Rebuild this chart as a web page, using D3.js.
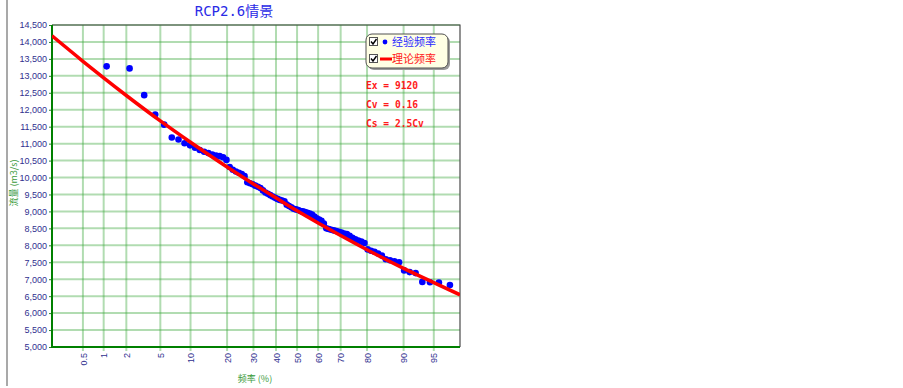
<!DOCTYPE html>
<html>
<head>
<meta charset="utf-8">
<script src="https://cdn.jsdelivr.net/npm/d3@7/dist/d3.min.js"></script>
<style>
body { margin: 0; background: #fff; }
</style>
</head>
<body>
<div id="chart-area"></div>
<script>
/*
*    RCP2.6 frequency curve
*/

var title = "RCP2.6情景";
var freqTicks = [0.5, 1, 2, 5, 10, 20, 30, 40, 50, 60, 70, 80, 90, 95];
var flowTicks = [5000, 5500, 6000, 6500, 7000, 7500, 8000, 8500, 9000, 9500,
    10000, 10500, 11000, 11500, 12000, 12500, 13000, 13500, 14000, 14500];
var freqRange = [0.16, 97.5];   // percent, ends of the probability axis
var flowRange = [5000, 14500];

// observed flows, sorted high to low (n = 90, last two fall off the axis)
var sampleSize = 90;
var observed = [13280, 13220, 12430, 11860, 11560, 11180, 11120, 11010, 10950, 10880,
    10810, 10760, 10720, 10680, 10650, 10630, 10600, 10520, 10310, 10230,
    10180, 10140, 10100, 10040, 9860, 9830, 9800, 9760, 9730, 9690,
    9620, 9560, 9520, 9480, 9440, 9400, 9370, 9340, 9320, 9300,
    9200, 9160, 9120, 9080, 9060, 9040, 9010, 9000, 8980, 8960,
    8940, 8910, 8850, 8800, 8760, 8720, 8640, 8500, 8480, 8460,
    8440, 8420, 8400, 8380, 8350, 8330, 8280, 8220, 8180, 8140,
    8110, 8070, 7880, 7840, 7810, 7760, 7700, 7590, 7560, 7530,
    7500, 7260, 7210, 7180, 6920, 6910, 6900, 6830];

// fitted curve
var theoryFreq = [0.16, 0.5, 1, 2, 5, 10, 20, 30, 40, 50, 60, 70, 80, 90, 95, 97.5];
var theoryFlow = [14180, 13430, 12940, 12420, 11670, 11040, 10310, 9810, 9400, 9020,
    8660, 8290, 7870, 7320, 6900, 6540];

var params = ["Ex = 9120", "Cv = 0.16", "Cs = 2.5Cv"];
var legendNames = ["经验频率", "理论频率"];

// inverse normal cdf (Acklam)
function probit(p) {
    var a = [-39.69683028665376, 220.9460984245205, -275.9285104469687, 138.3577518672690, -30.66479806614716, 2.506628277459239];
    var b = [-54.47609879822406, 161.5858368580409, -155.6989798598866, 66.80131188771972, -13.28068155288572];
    var c = [-0.007784894002430293, -0.3223964580411365, -2.400758277161838, -2.549732539343734, 4.374664141464968, 2.938163982698783];
    var d = [0.007784695709041462, 0.3224671290700398, 2.445134137142996, 3.754408661907416];
    var plow = 0.02425, q, r;
    if (p < plow) {
        q = Math.sqrt(-2 * Math.log(p));
        return (((((c[0]*q+c[1])*q+c[2])*q+c[3])*q+c[4])*q+c[5]) / ((((d[0]*q+d[1])*q+d[2])*q+d[3])*q+1);
    }
    if (p > 1 - plow) {
        q = Math.sqrt(-2 * Math.log(1 - p));
        return -(((((c[0]*q+c[1])*q+c[2])*q+c[3])*q+c[4])*q+c[5]) / ((((d[0]*q+d[1])*q+d[2])*q+d[3])*q+1);
    }
    q = p - 0.5; r = q * q;
    return (((((a[0]*r+a[1])*r+a[2])*r+a[3])*r+a[4])*r+a[5])*q / (((((b[0]*r+b[1])*r+b[2])*r+b[3])*r+b[4])*r+1);
}

var width = 903;
var height = 388;
var plot = {left: 52, top: 25, right: 460, bottom: 347};

var svg = d3.select("#chart-area")
    .append("svg")
    .attr("width", width)
    .attr("height", height)
    .style("font-family", "'Liberation Sans', Arial, sans-serif");

// panel edge on the left
svg.append("line")
    .attr("x1", 7).attr("x2", 7)
    .attr("y1", 0).attr("y2", 386)
    .attr("stroke", "#a9a9a9")
    .attr("stroke-width", 2);

var x = d3.scaleLinear()
    .domain([probit(freqRange[0] / 100), probit(freqRange[1] / 100)])
    .range([plot.left, plot.right]);

var y = d3.scaleLinear()
    .domain(flowRange)
    .range([plot.bottom, plot.top]);

var fx = (p) => { return x(probit(p / 100)); };

// grid (semi transparent so crossings come out darker)
var grid = svg.append("g").attr("class", "grid");
grid.selectAll(null).data(flowTicks).enter()
    .append("line")
    .attr("x1", plot.left).attr("x2", plot.right)
    .attr("y1", (d) => { return y(d); })
    .attr("y2", (d) => { return y(d); })
    .attr("stroke", "#3ca83c").attr("stroke-opacity", 0.4)
    .attr("stroke-width", 2);
grid.selectAll(null).data(freqTicks).enter()
    .append("line")
    .attr("x1", fx).attr("x2", fx)
    .attr("y1", plot.top).attr("y2", plot.bottom + 4)
    .attr("stroke", "#3ca83c").attr("stroke-opacity", 0.4)
    .attr("stroke-width", 2);

// frame
svg.append("path")
    .attr("d", "M" + plot.left + "," + plot.top + "H" + plot.right + "V" + plot.bottom)
    .attr("fill", "none")
    .attr("stroke", "#4a4a4a")
    .attr("stroke-width", 1.2);

// left axis
var yAxisCall = d3.axisLeft(y)
    .tickValues(flowTicks)
    .tickFormat(d3.format(","))
    .tickSize(3)
    .tickPadding(2);
var yAxis = svg.append("g")
    .attr("transform", "translate(" + plot.left + ",0)")
    .call(yAxisCall);
yAxis.select(".domain").remove();
yAxis.selectAll("line").attr("stroke", "#2e7d2e");
yAxis.selectAll("text")
    .attr("fill", "#30308f")
    .attr("font-size", "9px")
    .attr("font-family", "'Liberation Sans', Arial, sans-serif");

// bottom axis
var xAxisCall = d3.axisBottom(x)
    .tickValues(freqTicks.map((p) => { return probit(p / 100); }))
    .tickFormat((d, i) => { return freqTicks[i]; })
    .tickSize(0);
var xAxis = svg.append("g")
    .attr("transform", "translate(0," + plot.bottom + ")")
    .call(xAxisCall);
xAxis.select(".domain").remove();
xAxis.selectAll("text")
    .attr("transform", "rotate(-90)")
    .attr("x", -6)
    .attr("y", 0)
    .attr("dy", "0.35em")
    .attr("text-anchor", "end")
    .attr("fill", "#30308f")
    .attr("font-size", "9px")
    .attr("font-family", "'Liberation Sans', Arial, sans-serif");

svg.append("line")
    .attr("x1", plot.left).attr("x2", plot.left)
    .attr("y1", plot.top).attr("y2", plot.bottom + 1)
    .attr("stroke", "#008000").attr("stroke-width", 2);
svg.append("line")
    .attr("x1", plot.left - 1).attr("x2", plot.right)
    .attr("y1", plot.bottom).attr("y2", plot.bottom)
    .attr("stroke", "#008000").attr("stroke-width", 2);

// axis labels
svg.append("text")
    .attr("transform", "translate(17,183) rotate(-90)")
    .attr("text-anchor", "middle")
    .attr("font-size", "9px")
    .attr("fill", "#3a9a3a")
    .attr("font-family", "'Noto Sans CJK SC', sans-serif")
    .text("流量 (m3/s)");

svg.append("text")
    .attr("x", 255)
    .attr("y", 382)
    .attr("text-anchor", "middle")
    .attr("font-size", "9px")
    .attr("fill", "#3a9a3a")
    .attr("font-family", "'Noto Sans CJK SC', sans-serif")
    .text("频率 (%)");

// title
svg.append("text")
    .attr("x", 234)
    .attr("y", 16)
    .attr("text-anchor", "middle")
    .attr("font-size", "14px")
    .attr("fill", "#2a2ae6")
    .attr("font-family", "'DejaVu Sans Mono', 'Noto Sans CJK SC', monospace")
    .text(title);

// data
svg.append("clipPath").attr("id", "plot-clip")
    .append("rect")
    .attr("x", plot.left).attr("y", plot.top)
    .attr("width", plot.right - plot.left)
    .attr("height", plot.bottom - plot.top);

var g = svg.append("g").attr("clip-path", "url(#plot-clip)");

g.selectAll("circle").data(observed).enter()
    .append("circle")
    .attr("cx", (d, i) => { return fx(100 * (i + 1) / (sampleSize + 1)); })
    .attr("cy", (d) => { return y(d); })
    .attr("r", 3.3)
    .attr("fill", "#0000ff");

var theory = theoryFreq.map((p, i) => { return {p: p, q: theoryFlow[i]}; });
var line = d3.line()
    .x((d) => { return fx(d.p); })
    .y((d) => { return y(d.q); })
    .curve(d3.curveMonotoneX);

g.append("path")
    .datum(theory)
    .attr("d", line)
    .attr("fill", "none")
    .attr("stroke", "#ff0000")
    .attr("stroke-width", 3.5);

// legend
var lg = svg.append("g").attr("transform", "translate(366,34)");
lg.append("rect")
    .attr("x", 2).attr("y", 2)
    .attr("width", 82).attr("height", 34)
    .attr("rx", 6)
    .attr("fill", "#9a9a9a");
lg.append("rect")
    .attr("width", 82).attr("height", 34)
    .attr("rx", 6)
    .attr("fill", "#ffffe4")
    .attr("stroke", "#505050");

legendNames.forEach((name, i) => {
    var row = lg.append("g").attr("transform", "translate(0," + (8 + i * 17) + ")");
    row.append("rect")
        .attr("x", 3.5).attr("y", -4.5)
        .attr("width", 8).attr("height", 8)
        .attr("fill", "#fff")
        .attr("stroke", "#555");
    row.append("path")
        .attr("d", "M5,-0.5 L7,2 L10.5,-3")
        .attr("fill", "none")
        .attr("stroke", "#000")
        .attr("stroke-width", 1.4);
    if (i == 0) {
        row.append("circle").attr("cx", 19).attr("cy", 0).attr("r", 2.4).attr("fill", "#0000ff");
    } else {
        row.append("line").attr("x1", 14).attr("x2", 26).attr("y1", 0).attr("y2", 0)
            .attr("stroke", "#ff0000").attr("stroke-width", 3);
    }
    row.append("text")
        .attr("x", 26)
        .attr("y", 4)
        .attr("font-size", "11px")
        .attr("fill", i == 0 ? "#2a2aff" : "#ff2020")
        .attr("font-family", "'Noto Sans CJK SC', sans-serif")
        .text(name);
});

// parameters
svg.selectAll(".param").data(params).enter()
    .append("text")
    .attr("class", "param")
    .attr("x", 366)
    .attr("y", (d, i) => { return 89 + i * 19; })
    .attr("font-size", "9.6px")
    .attr("font-weight", "bold")
    .attr("fill", "#ff1a1a")
    .attr("font-family", "'DejaVu Sans Mono', monospace")
    .text((d) => { return d; });
</script>
</body>
</html>
